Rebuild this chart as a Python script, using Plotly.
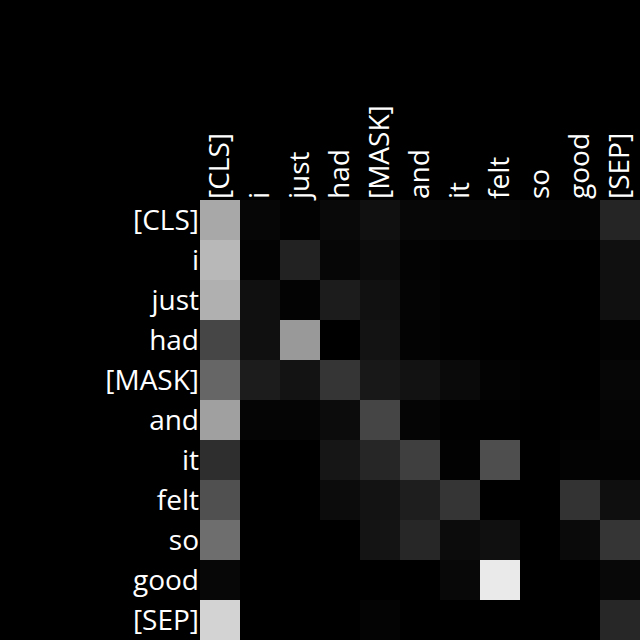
import plotly.graph_objects as go

tokens = ["[CLS]", "i", "just", "had", "[MASK]", "and", "it", "felt", "so", "good", "[SEP]"]

# gray levels (0-255), row = query token, col = key token
row_cls  = [168, 6, 2, 9, 16, 7, 6, 6, 5, 4, 37]
row_i    = [184, 3, 34, 6, 12, 3, 1, 1, 0, 0, 16]
row_just = [176, 16, 3, 28, 17, 4, 1, 1, 0, 0, 16]
row_had  = [70, 16, 153, 0, 19, 3, 1, 0, 0, 0, 3]
row_mask = [102, 28, 19, 53, 24, 18, 10, 3, 1, 0, 6]
row_and  = [160, 5, 5, 12, 69, 5, 1, 1, 0, 1, 5]
row_it   = [46, 0, 0, 22, 38, 63, 2, 78, 0, 3, 3]
row_felt = [80, 0, 0, 12, 19, 30, 53, 0, 0, 51, 15]
row_so   = [110, 0, 0, 0, 20, 39, 12, 16, 0, 10, 53]
row_good = [7, 0, 0, 0, 0, 0, 8, 234, 0, 0, 8]
row_sep  = [211, 0, 0, 0, 4, 0, 0, 0, 0, 0, 39]

z = [row_cls, row_i, row_just, row_had, row_mask, row_and,
     row_it, row_felt, row_so, row_good, row_sep]

fig = go.Figure(go.Heatmap(
    z=z, x=tokens, y=tokens,
    zmin=0, zmax=255,
    colorscale=[[0, "rgb(0,0,0)"], [1, "rgb(255,255,255)"]],
    showscale=False, xgap=0, ygap=0,
))

fig.update_layout(
    width=640, height=640,
    margin=dict(l=200, r=0, t=200, b=0),
    paper_bgcolor="black", plot_bgcolor="black",
    font=dict(family="Open Sans", size=28, color="white"),
)
fig.update_xaxes(side="top", tickangle=-90, showgrid=False, zeroline=False,
                 ticks="", showline=False, type="category")
fig.update_yaxes(autorange="reversed", showgrid=False, zeroline=False,
                 ticks="", showline=False, type="category")

fig.write_html("out.html")
